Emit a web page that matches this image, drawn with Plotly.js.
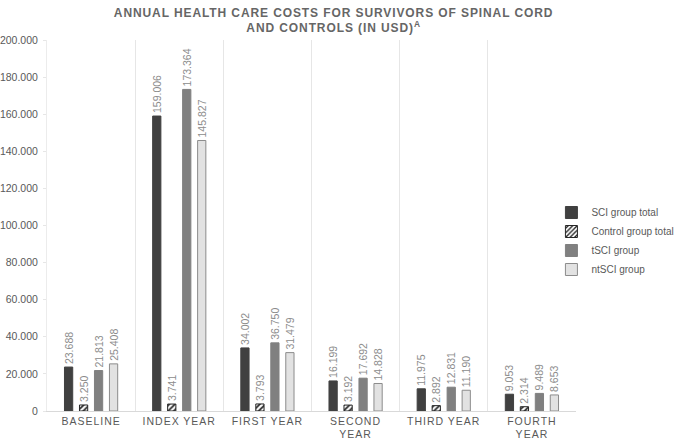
<!DOCTYPE html>
<html><head><meta charset="utf-8">
<script src="https://cdn.plot.ly/plotly-3.0.1.min.js"></script>
<style>
html,body{margin:0;padding:0;background:#fff;}
.gtitle{letter-spacing:0.9px;}
.xtick text{letter-spacing:1px;}
</style>
</head><body>
<div id="chart" style="width:685px;height:440px;"></div>
<script>
const categories = ["BASELINE", "INDEX YEAR", "FIRST YEAR", "SECOND<br>YEAR", "THIRD YEAR", "FOURTH<br>YEAR"];
const sciTotal = [23688, 159006, 34002, 16199, 11975, 9053];
const controlTotal = [3250, 3741, 3793, 3192, 2892, 2314];
const tsci = [21813, 173364, 36750, 17692, 12831, 9489];
const ntsci = [25408, 145827, 31479, 14828, 11190, 8653];
const seriesNames = ["SCI group total", "Control group total", "tSCI group", "ntSCI group"];
const yTicks = [0, 20000, 40000, 60000, 80000, 100000, 120000, 140000, 160000, 180000, 200000];

const labelFont = {family: "Liberation Sans, Arial, sans-serif", size: 10.5, color: "#8c8c8c"};
function mk(name, y, marker){
  return {type:"bar", name:name, x:categories, y:y, marker:marker,
    texttemplate:"%{y:,.0f}", textposition:"outside", textangle:-90, constraintext:"none",
    textfont:labelFont, cliponaxis:false, hoverinfo:"skip"};
}
const data = [
  mk(seriesNames[0], sciTotal, {color:"#404040", line:{color:"#404040", width:1}}),
  mk(seriesNames[1], controlTotal, {color:"#ffffff", line:{color:"#262626", width:1}, pattern:{shape:"/", fgcolor:"#262626", bgcolor:"#ffffff", size:4, solidity:0.45}}),
  mk(seriesNames[2], tsci, {color:"#808080", line:{color:"#808080", width:1}}),
  mk(seriesNames[3], ntsci, {color:"#e2e2e2", line:{color:"#8c8c8c", width:1}})
];
const layout = {
  width:685, height:440,
  margin:{l:47, r:109, t:40, b:29, autoexpand:false},
  paper_bgcolor:"#fff", plot_bgcolor:"#fff",
  separators:",.",
  font:{family:"Liberation Sans, Arial, sans-serif", color:"#595959", size:11},
  title:{text:"<b>ANNUAL HEALTH CARE COSTS FOR SURVIVORS OF SPINAL CORD<br>AND CONTROLS (IN USD)<sup>A</sup></b>",
    font:{size:12, color:"#666666", family:"Liberation Sans, Arial, sans-serif"},
    x:0.487, xanchor:"center", yref:"container", y:0.962, yanchor:"middle"},
  barmode:"group", bargap:0.32, bargroupgap:0.45,
  showlegend:true,
  legend:{xref:"container", yref:"container", x:0.805, xanchor:"left", y:0.55, yanchor:"top",
    font:{size:10, color:"#595959"}, itemwidth:30, tracegroupgap:0, bgcolor:"rgba(0,0,0,0)"},
  xaxis:{type:"category", tickson:"boundaries", showgrid:true, gridcolor:"#e6e6e6", gridwidth:1,
    ticks:"", showline:true, linecolor:"#d9d9d9", linewidth:1, tickfont:{size:10.5, color:"#595959"},
    fixedrange:true, mirror:false},
  yaxis:{range:[0,200000], tickvals:yTicks, tickformat:",.0f", showgrid:false, zeroline:false,
    showline:true, linecolor:"#ececec", linewidth:1, ticks:"outside", ticklen:3, tickcolor:"#e6e6e6",
    tickfont:{size:10.5, color:"#595959"}, fixedrange:true, ticklabelstandoff:3}
};
Plotly.newPlot("chart", data, layout, {displayModeBar:false, staticPlot:true});
</script>
</body></html>
